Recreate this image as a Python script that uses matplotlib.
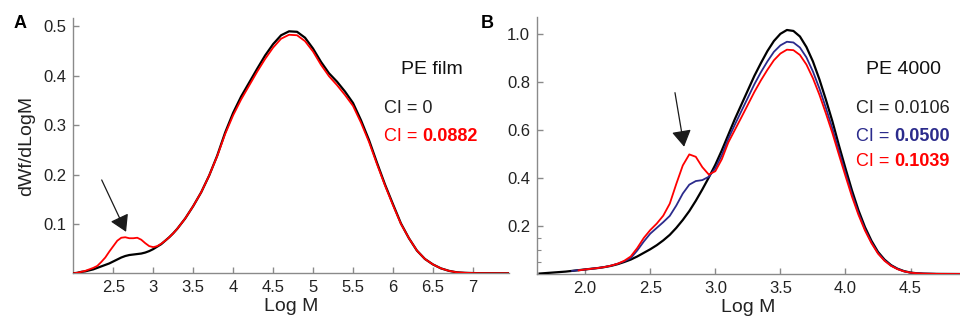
import numpy as np
import matplotlib
matplotlib.use("Agg")
import matplotlib.pyplot as plt
from matplotlib.ticker import FixedLocator, FormatStrFormatter

plt.rcParams['font.family'] = ['Liberation Sans', 'DejaVu Sans']

# ---------------- Panel A data (PE film) ----------------
logm_a = [2.00, 2.05, 2.10, 2.15, 2.20, 2.25, 2.30, 2.35, 2.40, 2.45, 2.50, 2.55, 2.60, 2.65,
          2.70, 2.75, 2.80, 2.85, 2.90, 2.95, 3.00, 3.05, 3.10, 3.15, 3.20, 3.25, 3.30,
          3.40, 3.50, 3.60, 3.70, 3.80, 3.90, 4.00, 4.10, 4.20, 4.30, 4.40, 4.50, 4.60, 4.70,
          4.80, 4.90, 5.00, 5.10, 5.20, 5.30, 5.40, 5.50, 5.60, 5.70, 5.80, 5.90, 6.00, 6.10,
          6.20, 6.30, 6.40, 6.50, 6.60, 6.70, 6.80, 6.90, 7.00, 7.10, 7.45]
film_ci0 = [0.000, 0.001, 0.003, 0.004, 0.006, 0.008, 0.011, 0.014, 0.017, 0.020, 0.024, 0.028,
            0.032, 0.035, 0.037, 0.038, 0.039, 0.040, 0.042, 0.045, 0.049, 0.054, 0.059, 0.066,
            0.073, 0.081, 0.090,
            0.111, 0.136, 0.164, 0.198, 0.238, 0.285, 0.325, 0.358, 0.386, 0.414, 0.441, 0.464,
            0.482, 0.490, 0.489, 0.477, 0.455, 0.428, 0.405, 0.388, 0.368, 0.345, 0.310, 0.270,
            0.224, 0.180, 0.140, 0.101, 0.071, 0.046, 0.029, 0.018, 0.010, 0.005, 0.002, 0.001,
            0.0005, 0.0002, 0.000]
film_ci0882 = [0.000, 0.001, 0.003, 0.005, 0.008, 0.011, 0.015, 0.023, 0.032, 0.044, 0.055, 0.066,
               0.072, 0.073, 0.071, 0.071, 0.072, 0.068, 0.061, 0.055, 0.053, 0.055, 0.060, 0.066,
               0.073, 0.081, 0.090,
               0.111, 0.136, 0.164, 0.198, 0.237, 0.282, 0.320, 0.352, 0.380, 0.408, 0.434, 0.457,
               0.475, 0.483, 0.482, 0.470, 0.449, 0.422, 0.399, 0.381, 0.361, 0.339, 0.305, 0.266,
               0.221, 0.178, 0.138, 0.100, 0.071, 0.046, 0.029, 0.018, 0.010, 0.005, 0.002, 0.001,
               0.0005, 0.0002, 0.000]

# ---------------- Panel B data (PE 4000) ----------------
nan = np.nan
logm_b = [1.65, 1.70, 1.75, 1.80, 1.85, 1.90, 1.95, 2.00, 2.05, 2.10, 2.15, 2.20, 2.25, 2.30,
          2.35, 2.40, 2.45, 2.50, 2.55, 2.60, 2.65, 2.70, 2.75, 2.80, 2.85, 2.90, 2.95, 3.00,
          3.05, 3.10, 3.15, 3.20, 3.25, 3.30, 3.35, 3.40, 3.45, 3.50, 3.55, 3.60, 3.65, 3.70,
          3.75, 3.80, 3.85, 3.90, 3.95, 4.00, 4.05, 4.10, 4.15, 4.20, 4.25, 4.30, 4.35, 4.40,
          4.45, 4.50, 4.55, 4.60, 4.70, 4.88]
pe4000_ci0106 = [0.002, 0.004, 0.006, 0.008, 0.010, 0.013, 0.016, 0.019, 0.022, 0.025, 0.029,
                 0.034, 0.041, 0.050, 0.060, 0.073, 0.088, 0.103, 0.120, 0.140, 0.163, 0.192,
                 0.225, 0.262, 0.305, 0.352, 0.402, 0.455, 0.515, 0.580, 0.645, 0.705, 0.765,
                 0.825, 0.878, 0.928, 0.970, 1.000, 1.016, 1.012, 0.989, 0.945, 0.885, 0.810,
                 0.725, 0.635, 0.535, 0.440, 0.348, 0.265, 0.195, 0.138, 0.092, 0.060, 0.037,
                 0.022, 0.012, 0.006, 0.003, 0.0015, 0.0005, 0.000]
pe4000_ci0500 = [nan, nan, nan, nan, nan, 0.013, 0.016, 0.019, 0.022, 0.025, 0.029,
                 0.035, 0.043, 0.053, 0.066, 0.098, 0.135, 0.168, 0.192, 0.216, 0.242, 0.285,
                 0.335, 0.372, 0.387, 0.391, 0.405, 0.440, 0.495, 0.563, 0.622, 0.678, 0.734,
                 0.790, 0.840, 0.885, 0.925, 0.952, 0.967, 0.964, 0.943, 0.902, 0.843, 0.772,
                 0.691, 0.605, 0.512, 0.420, 0.332, 0.253, 0.186, 0.131, 0.087, 0.057, 0.035,
                 0.021, 0.011, 0.0057, 0.003, 0.0015, 0.0005, 0.000]
pe4000_ci1039 = [nan, nan, nan, nan, nan, nan, 0.015, 0.019, 0.022, 0.025, 0.029,
                 0.035, 0.043, 0.055, 0.073, 0.108, 0.150, 0.183, 0.210, 0.243, 0.293, 0.375,
                 0.452, 0.498, 0.488, 0.445, 0.414, 0.428, 0.478, 0.548, 0.600, 0.652, 0.705,
                 0.758, 0.806, 0.850, 0.890, 0.918, 0.934, 0.932, 0.912, 0.872, 0.815, 0.746,
                 0.668, 0.586, 0.496, 0.408, 0.322, 0.246, 0.181, 0.128, 0.085, 0.055, 0.034,
                 0.020, 0.011, 0.0055, 0.003, 0.0015, 0.0005, 0.000]

xticks_a = [2.5, 3, 3.5, 4, 4.5, 5, 5.5, 6, 6.5, 7]
xticklabels_a = ["2.5", "3", "3.5", "4", "4.5", "5", "5.5", "6", "6.5", "7"]
yticks_a = [0.1, 0.2, 0.3, 0.4, 0.5]
xticks_b = [2.0, 2.5, 3.0, 3.5, 4.0, 4.5]
yticks_b = [0.2, 0.4, 0.6, 0.8, 1.0]
yminor_b = [0.05, 0.10, 0.15]

BLACK = "#000000"
RED = "#ff0000"
BLUE = "#2b2b8c"
AXC = "#8a8a8a"
TXT = "#222222"

fig = plt.figure(figsize=(9.6, 3.21), dpi=100)
axA = fig.add_axes([0.0764, 0.1486, 0.4536, 0.7954])
axB = fig.add_axes([0.5594, 0.1464, 0.4406, 0.8006])


def style(ax):
    for s in ["top", "right"]:
        ax.spines[s].set_visible(False)
    for s in ["left", "bottom"]:
        ax.spines[s].set_color(AXC)
        ax.spines[s].set_linewidth(1.0)
    ax.tick_params(which="major", direction="in", length=4, width=1.0, color=AXC,
                   labelsize=12, labelcolor=TXT, pad=5)
    ax.tick_params(which="minor", direction="in", length=3, width=0.8, color=AXC)


# Panel A
axA.plot(logm_a, film_ci0, color=BLACK, lw=1.6, zorder=3, solid_joinstyle="round")
axA.plot(logm_a, film_ci0882, color=RED, lw=1.3, zorder=4, solid_joinstyle="round")
axA.set_xlim(2.0, 7.45)
axA.set_ylim(0, 0.517)
axA.xaxis.set_major_locator(FixedLocator(xticks_a))
axA.set_xticklabels(xticklabels_a)
axA.yaxis.set_major_locator(FixedLocator(yticks_a))
axA.yaxis.set_major_formatter(FormatStrFormatter("%.1f"))
style(axA)
axA.set_xlabel("Log M", fontsize=14, color=TXT, labelpad=2)
axA.set_ylabel("dWf/dLogM", fontsize=14, color=TXT, labelpad=6)
axA.annotate("", xy=(2.66, 0.084), xytext=(2.355, 0.189),
             arrowprops=dict(arrowstyle="-|>,head_length=0.5,head_width=0.3", mutation_scale=20,
                             lw=0.9, color="#1a1a1a", shrinkA=0, shrinkB=0))
fig.text(432 / 960, 1 - 70 / 321, "PE film", fontsize=14, color="#111111", ha="center", va="center")
fig.text(384 / 960, 1 - 109 / 321, "CI = 0", fontsize=13, color=TXT, ha="left", va="center")
t = fig.text(384 / 960, 1 - 136 / 321, "CI = ", fontsize=13, color=RED, ha="left", va="center")
fig.canvas.draw()
r = fig.canvas.get_renderer()
bb = t.get_window_extent(r)
fig.text(bb.x1 / 960, 1 - 136 / 321, "0.0882", fontsize=13, color=RED, fontweight="bold",
         ha="left", va="center")
fig.text(20 / 960, 1 - 24 / 321, "A", fontsize=13, fontweight="bold", color="#000000",
         ha="center", va="center")

# Panel B
axB.plot(logm_b, pe4000_ci0106, color=BLACK, lw=1.6, zorder=3, solid_joinstyle="round")
axB.plot(logm_b, pe4000_ci0500, color=BLUE, lw=1.3, zorder=4, solid_joinstyle="round")
axB.plot(logm_b, pe4000_ci1039, color=RED, lw=1.3, zorder=5, solid_joinstyle="round")
axB.set_xlim(1.63, 4.88)
axB.set_ylim(0, 1.07)
axB.xaxis.set_major_locator(FixedLocator(xticks_b))
axB.xaxis.set_major_formatter(FormatStrFormatter("%.1f"))
axB.yaxis.set_major_locator(FixedLocator(yticks_b))
axB.yaxis.set_minor_locator(FixedLocator(yminor_b))
axB.yaxis.set_major_formatter(FormatStrFormatter("%.1f"))
style(axB)
axB.set_xlabel("Log M", fontsize=14, color=TXT, labelpad=2)
axB.annotate("", xy=(2.76, 0.53), xytext=(2.69, 0.755),
             arrowprops=dict(arrowstyle="-|>,head_length=0.5,head_width=0.3", mutation_scale=20,
                             lw=0.9, color="#1a1a1a", shrinkA=0, shrinkB=0))
fig.text(903 / 960, 1 - 69 / 321, "PE 4000", fontsize=14, color="#111111", ha="center", va="center")
fig.text(856 / 960, 1 - 109 / 321, "CI = 0.0106", fontsize=13, color=TXT, ha="left", va="center")
for yy, col, num in [(136, BLUE, "0.0500"), (162, RED, "0.1039")]:
    t = fig.text(856 / 960, 1 - yy / 321, "CI = ", fontsize=13, color=col, ha="left", va="center")
    fig.canvas.draw()
    bb = t.get_window_extent(fig.canvas.get_renderer())
    fig.text(bb.x1 / 960, 1 - yy / 321, num, fontsize=13, color=col, fontweight="bold",
             ha="left", va="center")
fig.text(487 / 960, 1 - 24 / 321, "B", fontsize=13, fontweight="bold", color="#000000",
         ha="center", va="center")

fig.savefig("out.png", dpi=100)
